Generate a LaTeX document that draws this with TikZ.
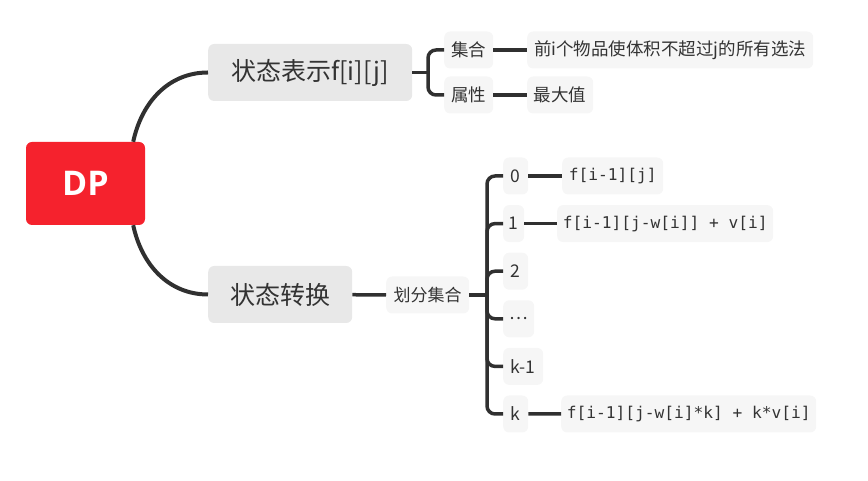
\documentclass[tikz,border=0pt]{standalone}
\usepackage{fontspec}
\setmainfont{Noto Sans CJK SC}
\setmonofont{DejaVu Sans Mono}
\newfontfamily\dpfont{Open Sans}
\usetikzlibrary{positioning, calc}
\definecolor{cRed}{HTML}{F5222D}
\definecolor{cMain}{HTML}{E8E8E8}
\definecolor{cSub}{HTML}{F6F6F6}
\definecolor{cText}{HTML}{333333}
\definecolor{cLine}{HTML}{303030}

\begin{document}
\begin{tikzpicture}[
  x=1pt, y=1pt,
  rootbox/.style={fill=cRed, rounded corners=6pt,
    minimum width=119pt, minimum height=83pt,
    text=white, font=\dpfont\bfseries\fontsize{34}{40}\selectfont},
  topicbox/.style={fill=cMain, rounded corners=6pt, anchor=west, inner sep=0pt,
    minimum width=#1, minimum height=57pt,
    text=cText, font=\fontsize{25}{30}\selectfont},
  itembox/.style={fill=cSub, rounded corners=6pt, anchor=west, inner sep=0pt,
    minimum width=#1, minimum height=37pt,
    text=cText, font=\fontsize{17.5}{21}\selectfont},
  codebox/.style={itembox=#1, font=\ttfamily\fontsize{16.2}{19}\selectfont},
  link/.style={draw=cLine, line width=3.5pt}
]
  \useasboundingbox (0,0) rectangle (868,481);

  \node[rootbox] (dp) at (85.5,297.5) {DP};

  \node[topicbox=204pt] (repr) at (208,408.5) {状态表示f[i][j]};
  \node[topicbox=144pt] (trans) at (208,186.5) {状态转换};

  \node[itembox=49pt] (set) at (444,431) {集合};
  \node[itembox=49pt] (attr) at (444,386) {属性};
  \node[itembox=286pt] (setdesc) at (527,431) {前i个物品使体积不超过j的所有选法};
  \node[itembox=66pt] (attrdesc) at (527,386) {最大值};

  \node[itembox=83pt, font=\fontsize{17}{20}\selectfont] (split) at (386,186) {划分集合};

  \foreach \lbl/\w [count=\i from 0] in {0/25pt, 1/21pt, 2/25pt, \ldots/31pt, k-1/40pt, k/25pt}
    \node[itembox=\w] (c\i) at (503,305-47.6*\i) {\lbl};

  \node[codebox=101pt] (v0) at (562,305) {f[i-1][j]};
  \node[codebox=216pt] (v1) at (557,257.4) {f[i-1][j-w[i]] + v[i]};
  \node[codebox=255pt] (v5) at (561,67) {f[i-1][j-w[i]*k] + k*v[i]};

  % connectors
  \draw[link, line width=4pt] ([xshift=-12pt]dp.north east) to[out=78,in=180] (repr.west);
  \draw[link, line width=4pt] ([xshift=-12pt]dp.south east) to[out=-78,in=180] (trans.west);

  \coordinate (fork) at (428,408.5);
  \draw[link] (repr.east) -- (fork);
  \draw[link, rounded corners=8pt] (set.west) -- (set.west -| fork) |- (attr.west);
  \draw[link] (set) -- (setdesc);
  \draw[link] (attr) -- (attrdesc);

  \draw[link] (trans) -- (split);
  \coordinate (bus) at (487,186);
  \draw[link] (split.east) -- (bus);
  \foreach \i in {0,...,5}
    \draw[link, rounded corners=8pt] (bus) |- (c\i.west);

  \draw[link] (c0) -- (v0);
  \draw[link] (c1) -- (v1);
  \draw[link] (c5) -- (v5);
\end{tikzpicture}
\end{document}
